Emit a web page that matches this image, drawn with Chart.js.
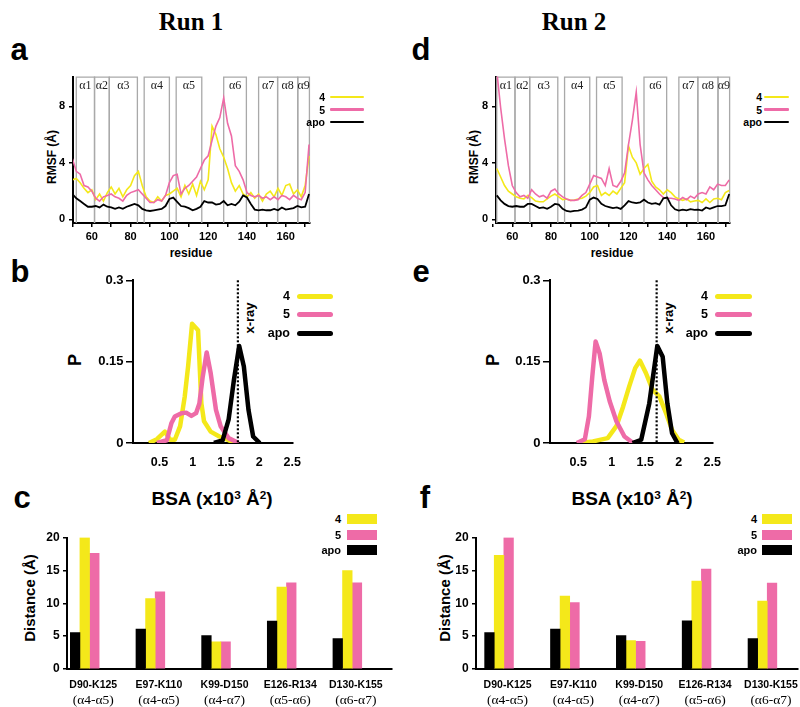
<!DOCTYPE html>
<html>
<head>
<meta charset="utf-8">
<script src="https://cdn.jsdelivr.net/npm/chart.js@4.4.1/dist/chart.umd.min.js"></script>
<style>
  body { margin: 0; background: #fff; }
  #fig { position: relative; width: 800px; height: 707px; overflow: hidden; font-family: "Liberation Sans", Arial, sans-serif; color: #000; }
  #fig canvas { position: absolute; }
  .t { position: absolute; white-space: nowrap; font-weight: bold; transform: translate(-50%, -50%); line-height: 1; }
  .rot { transform: translate(-50%, -50%) rotate(-90deg); }
  .run { font-family: "Liberation Serif", "Times New Roman", serif; font-size: 25px; }
  .letter { font-size: 31px; }
  .lg { position: absolute; white-space: nowrap; font-weight: bold; transform: translate(-100%, -50%); line-height: 1; }
  .sw { position: absolute; }
  sup { font-size: 0.62em; vertical-align: 0; position: relative; top: -0.55em; }
</style>
</head>
<body>
<div id="fig">
  <div class="t run" style="left:191px;top:21px">Run 1</div>
  <div class="t run" style="left:574px;top:21px">Run 2</div>

  <div class="t letter" style="left:19px;top:49px">a</div>
  <div class="t letter" style="left:20px;top:271px">b</div>
  <div class="t letter" style="left:22px;top:497px">c</div>
  <div class="t letter" style="left:421px;top:49px">d</div>
  <div class="t letter" style="left:421px;top:271px">e</div>
  <div class="t letter" style="left:425px;top:497px">f</div>

  <div class="t rot" style="left:52px;top:157px;font-size:12px">RMSF (Å)</div>
  <div class="t rot" style="left:474px;top:157px;font-size:12px">RMSF (Å)</div>
  <div class="t" style="left:191px;top:253px;font-size:12px">residue</div>
  <div class="t" style="left:612px;top:253px;font-size:12px">residue</div>

  <div class="t rot" style="left:75px;top:360px;font-size:18px">P</div>
  <div class="t rot" style="left:493px;top:360px;font-size:18px">P</div>
  <div class="t rot" style="left:249px;top:318px;font-size:13px">x-ray</div>
  <div class="t rot" style="left:668px;top:318px;font-size:13px">x-ray</div>
  <div class="t" style="left:212px;top:498px;font-size:19px">BSA (x10<sup>3</sup> Å<sup>2</sup>)</div>
  <div class="t" style="left:632px;top:498px;font-size:19px">BSA (x10<sup>3</sup> Å<sup>2</sup>)</div>

  <div class="t rot" style="left:29px;top:598px;font-size:15px">Distance (Å)</div>
  <div class="t rot" style="left:444px;top:598px;font-size:15px">Distance (Å)</div>
</div>

<script>
// Series
const seriesNames = ['4', '5', 'apo'];
const seriesColors = ['#F4E81A', '#EE6BA7', '#000000'];

// a / d : RMSF per residue
const resA = [50,52,54,56,58,60,62,64,66,68,70,72,74,76,78,80,82,84,86,88,90,92,94,96,98,100,102,104,106,108,110,112,114,116,118,120,122,124,126,128,130,132,134,136,138,140,142,144,146,148,150,152,154,156,158,160,162,164,166,168,170,172];
const rmsfA4 = [2.8,2.9,2.6,2.2,1.9,2.1,1.4,1.8,1.3,1.9,2.3,1.8,2.2,1.6,2.1,2.4,3.1,3.4,2.4,1.6,1.3,1.2,1.6,1.3,1.7,1.8,2.0,2.2,1.6,2.4,1.8,2.5,1.7,2.7,2.1,2.8,6.6,6.0,5.0,4.4,3.6,2.6,2.0,2.4,1.8,1.6,1.9,1.5,1.8,1.3,1.8,2.0,1.6,2.2,1.7,2.4,2.5,1.8,2.1,1.6,2.4,4.5];
const rmsfA5 = [4.3,3.4,3.2,2.4,2.3,2.0,1.5,1.3,1.6,1.7,1.8,1.6,1.5,1.3,1.7,1.9,2.0,2.1,1.8,1.5,1.2,1.2,1.4,1.3,1.7,2.6,3.1,3.2,1.8,2.2,2.4,2.7,3.0,3.6,4.2,4.5,5.6,6.6,7.2,8.6,6.8,5.9,3.8,3.4,2.8,1.9,1.7,1.6,1.7,1.5,1.6,1.4,1.6,1.4,1.7,1.6,1.4,1.7,1.5,1.4,1.9,5.3];
const rmsfAapo = [1.8,1.5,1.3,1.1,0.9,0.9,0.95,0.85,1.05,0.9,0.85,0.75,0.85,0.75,0.9,1.0,1.1,1.0,0.75,0.65,0.6,0.65,0.7,0.75,0.95,1.45,1.55,1.25,0.95,0.9,0.8,0.65,0.75,0.9,1.3,1.2,1.2,1.05,1.1,1.3,1.0,1.1,1.0,1.25,1.7,1.55,1.1,0.7,0.65,0.7,0.65,0.65,0.75,0.65,0.85,0.7,0.75,0.8,0.95,0.85,0.9,1.8];

const resD = [52,54,56,58,60,62,64,66,68,70,72,74,76,78,80,82,84,86,88,90,92,94,96,98,100,102,104,106,108,110,112,114,116,118,120,122,124,126,128,130,132,134,136,138,140,142,144,146,148,150,152,154,156,158,160,162,164,166,168,170,172];
const rmsfD4 = [3.6,3.0,2.4,2.0,1.8,1.6,1.5,1.45,1.7,1.55,1.3,1.25,1.25,1.45,1.65,1.8,1.6,1.4,1.45,1.35,1.38,1.45,1.5,1.65,1.9,2.3,2.4,1.7,1.9,1.7,2.0,1.8,2.2,2.6,5.2,4.4,4.0,3.2,3.6,3.9,2.7,2.3,2.1,1.8,2.1,1.9,1.6,1.45,1.35,1.45,1.25,1.3,1.35,1.2,1.45,1.2,1.45,1.5,1.4,1.9,2.05];
const rmsfD5 = [10.5,7.9,5.7,3.8,2.4,1.9,1.6,1.7,1.5,2.1,1.8,1.6,1.7,1.5,2.0,2.15,1.8,1.6,1.45,1.35,1.35,1.4,1.7,1.9,2.5,3.1,3.0,2.9,2.4,3.6,2.4,2.3,2.7,3.3,5.3,7.0,9.0,5.3,3.3,2.8,2.4,2.1,1.8,1.55,1.5,1.5,1.45,1.35,1.55,1.4,1.65,1.5,1.8,1.9,1.8,2.3,2.1,2.5,2.4,2.4,2.8];
const rmsfDapo = [1.7,1.35,1.1,0.95,0.9,0.95,0.9,0.9,1.1,1.1,0.95,0.8,0.85,0.75,0.9,1.1,1.05,0.75,0.6,0.55,0.6,0.63,0.7,0.85,1.4,1.55,1.45,1.1,0.95,0.88,0.8,0.85,0.75,1.0,1.3,1.2,1.15,1.2,1.4,1.2,1.1,1.15,1.05,1.5,1.55,1.0,0.72,0.63,0.7,0.65,0.73,0.68,0.7,0.63,0.85,0.75,0.85,0.95,0.95,1.0,1.8];

const rmsfTicks = [50,60,70,80,90,100,110,120,130,140,150,160,170];
const rmsfTickLabels = [60,80,100,120,140,160];
const rmsfYTicks = [0,4,8];

// helices (residue ranges)
const helixNames = ['α1','α2','α3','α4','α5','α6','α7','α8','α9'];
const helixStart = [52, 61.4, 69, 87, 103.5, 128, 146, 155.8, 166.2];
const helixEnd   = [61.4, 69, 83.5, 100, 116.7, 139.7, 155.8, 166.2, 172.2];

// b / e : BSA distributions
const bsaB4x = [0.34,0.46,0.58,0.66,0.73,0.81,0.88,0.93,0.99,1.08,1.13,1.17,1.27,1.40,1.54,1.67];
const bsaB4p = [0,0.007,0.021,0.006,0.006,0.031,0.086,0.141,0.220,0.208,0.073,0.040,0.021,0.012,0.005,0];
const bsaB5x = [0.46,0.61,0.68,0.73,0.83,0.90,0.98,1.05,1.10,1.15,1.21,1.27,1.35,1.42,1.54,1.69];
const bsaB5p = [0,0.005,0.037,0.049,0.055,0.056,0.050,0.055,0.073,0.122,0.167,0.129,0.061,0.031,0.009,0];
const bsaBapox = [1.32,1.45,1.54,1.62,1.70,1.77,1.84,1.91,2.01];
const bsaBapop = [0,0.005,0.043,0.116,0.179,0.141,0.061,0.012,0];

const bsaE4x = [0.52,0.72,0.94,1.07,1.17,1.26,1.35,1.42,1.51,1.61,1.71,1.81,1.90,2.00,2.08];
const bsaE4p = [0,0.003,0.009,0.031,0.067,0.104,0.138,0.152,0.129,0.098,0.086,0.055,0.024,0.006,0.001];
const bsaE5x = [0.48,0.60,0.66,0.71,0.76,0.82,0.89,0.97,1.07,1.19,1.31,1.36];
const bsaE5p = [0,0.007,0.049,0.122,0.187,0.165,0.116,0.077,0.040,0.012,0.001,0];
const bsaEapox = [1.31,1.44,1.56,1.68,1.76,1.83,1.90,1.98];
const bsaEapop = [0,0.006,0.073,0.179,0.159,0.073,0.018,0];

const xrayB = 1.68, xrayE = 1.67;
const bsaXTicks = [0.5,1,1.5,2,2.5];
const bsaYTicks = [0,0.15,0.3];

// c / f : distances
const pairs = ['D90-K125','E97-K110','K99-D150','E126-R134','D130-K155'];
const pairHelices = ['(α4-α5)','(α4-α5)','(α4-α7)','(α5-α6)','(α6-α7)'];
const distC4 = [20, 10.7, 4.12, 12.46, 14.97];
const distC5 = [17.6, 11.76, 4.12, 13.1, 13.1];
const distCapo = [5.53, 6.08, 5.08, 7.29, 4.62];
const distF4 = [17.3, 11.1, 4.32, 13.37, 10.35];
const distF5 = [20, 10.1, 4.22, 15.2, 13.07];
const distFapo = [5.53, 6.08, 5.08, 7.34, 4.62];
const distYTicks = [0,5,10,15,20];

Chart.defaults.font.family = '"Liberation Sans", Arial, sans-serif';
Chart.defaults.font.weight = 'bold';
Chart.defaults.color = '#000';
Chart.defaults.animation = false;

const fig = document.getElementById('fig');

// canvas placed so that the chart area lands on box
function makeCanvas(box, pad) {
  const l = Math.round(box.l - pad.l), t = Math.round(box.t - pad.t);
  const r = Math.round(box.r + pad.r), b = Math.round(box.b + pad.b);
  const c = document.createElement('canvas');
  c.width = r - l; c.height = b - t;
  c.style.left = l + 'px'; c.style.top = t + 'px';
  c.style.width = (r - l) + 'px'; c.style.height = (b - t) + 'px';
  fig.appendChild(c);
  return {
    canvas: c,
    padding: { left: 0, top: Math.round(box.t) - t, right: r - Math.round(box.r), bottom: 0 },
    yW: Math.round(box.l) - l,
    xH: b - Math.round(box.b)
  };
}

function axis(tickLen, size, pad, fixed) {
  return {
    border: { display: true, color: '#000', width: 2 },
    grid: { display: true, drawOnChartArea: false, drawTicks: tickLen > 0, tickLength: tickLen,
            color: '#000', tickColor: '#000', tickWidth: 1.5, lineWidth: 1.5 },
    ticks: { font: { size: size, weight: 'bold' }, padding: pad, color: '#000', autoSkip: false, maxRotation: 0 },
    afterFit: fixed
  };
}

function pts(xs, ys) { return xs.map((x, i) => ({ x: x, y: ys[i] })); }

const helixPlugin = {
  id: 'helix',
  beforeDatasetsDraw(chart) {
    const { ctx, chartArea: a, scales: { x } } = chart;
    ctx.save();
    ctx.strokeStyle = '#a9a9a9';
    ctx.lineWidth = 1.3;
    ctx.fillStyle = '#222';
    ctx.font = '12px "Liberation Serif", "Times New Roman", serif';
    ctx.textAlign = 'center';
    ctx.textBaseline = 'middle';
    helixNames.forEach((n, i) => {
      const x0 = x.getPixelForValue(helixStart[i]);
      const x1 = x.getPixelForValue(helixEnd[i]);
      ctx.beginPath();
      ctx.moveTo(x0, a.bottom); ctx.lineTo(x0, a.top + 0.5);
      ctx.lineTo(x1, a.top + 0.5); ctx.lineTo(x1, a.bottom);
      ctx.stroke();
      ctx.fillText(n, (x0 + x1) / 2, a.top + 9);
    });
    ctx.restore();
  }
};

const xrayPlugin = {
  id: 'xray',
  afterDatasetsDraw(chart, args, opts) {
    const { ctx, chartArea: a, scales: { x } } = chart;
    const px = x.getPixelForValue(opts.value);
    ctx.save();
    ctx.strokeStyle = '#000';
    ctx.lineWidth = 2.2;
    ctx.setLineDash([2, 2]);
    ctx.beginPath();
    ctx.moveTo(px, a.top); ctx.lineTo(px, a.bottom);
    ctx.stroke();
    ctx.restore();
  }
};

const subLabelPlugin = {
  id: 'sublabels',
  afterDraw(chart) {
    const { ctx, chartArea: a, scales: { x } } = chart;
    ctx.save();
    ctx.fillStyle = '#000';
    ctx.font = '13.5px "Liberation Serif", "Times New Roman", serif';
    ctx.textAlign = 'center';
    ctx.textBaseline = 'middle';
    pairHelices.forEach((s, i) => {
      ctx.fillText(s, x.getPixelForValue(i) + 8.5, a.bottom + 31);
    });
    ctx.restore();
  }
};

function rmsfChart(box, res, s4, s5, sApo, xmin, xmax) {
  const cv = makeCanvas(box, { l: 36, t: 10, r: 12, b: 26 });
  const ds = (i, data, w) => ({
    label: seriesNames[i], data: pts(res, data), borderColor: seriesColors[i],
    borderWidth: w, pointRadius: 0, tension: 0, fill: false
  });
  const xAx = axis(4, 11, 3.5, s => { s.height = cv.xH; });
  Object.assign(xAx, { type: 'linear', min: xmin, max: xmax,
    afterBuildTicks: s => { s.ticks = rmsfTicks.map(v => ({ value: v })); } });
  xAx.ticks.callback = v => rmsfTickLabels.includes(v) ? String(v) : '';
  const yAx = axis(4, 11, 4, s => { s.width = cv.yW; });
  Object.assign(yAx, { min: -0.25, max: 10.1,
    afterBuildTicks: s => { s.ticks = rmsfYTicks.map(v => ({ value: v })); } });
  yAx.ticks.callback = v => String(v);
  new Chart(cv.canvas, {
    type: 'line',
    data: { datasets: [ds(2, sApo, 1.8), ds(1, s5, 1.6), ds(0, s4, 1.6)] },
    options: {
      responsive: false,
      layout: { padding: cv.padding },
      plugins: { legend: { display: false }, tooltip: { enabled: false } },
      scales: { x: xAx, y: yAx }
    },
    plugins: [helixPlugin]
  });
}

function bsaChart(box, xs, ps, xmin, xray) {
  const cv = makeCanvas(box, { l: 46, t: 10, r: 20, b: 30 });
  const xAx = axis(0, 12.5, 12, s => { s.height = cv.xH; });
  Object.assign(xAx, { type: 'linear', min: xmin, max: 2.5,
    afterBuildTicks: s => { s.ticks = bsaXTicks.map(v => ({ value: v })); } });
  xAx.ticks.callback = v => String(v);
  const yAx = axis(7, 13, 2.5, s => { s.width = cv.yW; });
  Object.assign(yAx, { min: 0, max: 0.3,
    afterBuildTicks: s => { s.ticks = bsaYTicks.map(v => ({ value: v })); } });
  yAx.ticks.callback = v => String(v);
  const order = [2, 1, 0];
  new Chart(cv.canvas, {
    type: 'line',
    data: { datasets: order.map(i => ({
      label: seriesNames[i], data: pts(xs[i], ps[i]), borderColor: seriesColors[i],
      borderWidth: 4.5, pointRadius: 0, tension: 0, fill: false, borderJoinStyle: 'round'
    })) },
    options: {
      responsive: false,
      layout: { padding: cv.padding },
      plugins: { legend: { display: false }, tooltip: { enabled: false }, xray: { value: xray } },
      scales: { x: xAx, y: yAx }
    },
    plugins: [xrayPlugin]
  });
}

function distChart(box, s4, s5, sApo, xmin, xmax) {
  const cv = makeCanvas(box, { l: 36, t: 10, r: 2, b: 38 });
  const xAx = axis(0, 10.5, 9.5, s => { s.height = cv.xH; });
  Object.assign(xAx, { type: 'linear', min: xmin, max: xmax, offset: false,
    afterBuildTicks: s => { s.ticks = pairs.map((p, i) => ({ value: i })); } });
  xAx.ticks.callback = v => pairs[v] || '';
  xAx.ticks.labelOffset = 8.5;
  const yAx = axis(4, 12, 3.4, s => { s.width = cv.yW; });
  Object.assign(yAx, { min: 0, max: 20,
    afterBuildTicks: s => { s.ticks = distYTicks.map(v => ({ value: v })); } });
  yAx.ticks.callback = v => String(v);
  const vals = [s4, s5, sApo];
  const order = [2, 0, 1];
  new Chart(cv.canvas, {
    type: 'bar',
    data: { datasets: order.map(i => ({
      label: seriesNames[i], data: vals[i].map((v, k) => ({ x: k, y: v })),
      backgroundColor: seriesColors[i], borderWidth: 0, barThickness: 9.6
    })) },
    options: {
      responsive: false,
      layout: { padding: cv.padding },
      plugins: { legend: { display: false }, tooltip: { enabled: false } },
      scales: { x: xAx, y: yAx }
    },
    plugins: [subLabelPlugin]
  });
}

// HTML legends built from the series
function legend(textRight, x0, x1, ys, size, thick, box) {
  seriesNames.forEach((n, i) => {
    const lab = document.createElement('div');
    lab.className = 'lg';
    lab.style.left = textRight + 'px';
    lab.style.top = ys[i] + 'px';
    lab.style.fontSize = size + 'px';
    lab.textContent = n;
    fig.appendChild(lab);
    const sw = document.createElement('div');
    sw.className = 'sw';
    sw.style.left = x0 + 'px';
    sw.style.width = (x1 - x0) + 'px';
    sw.style.top = (ys[i] - thick / 2) + 'px';
    sw.style.height = thick + 'px';
    sw.style.background = seriesColors[i];
    if (!box) sw.style.borderRadius = (thick / 2) + 'px';
    fig.appendChild(sw);
  });
}

rmsfChart({ l: 73, t: 76, r: 310, b: 222.5 }, resA, rmsfA4, rmsfA5, rmsfAapo, 50.3, 172.5);
rmsfChart({ l: 496, t: 76, r: 730, b: 222.5 }, resD, rmsfD4, rmsfD5, rmsfDapo, 51.6, 172.4);

bsaChart({ l: 133, t: 280, r: 293, b: 443 },
  [bsaB4x, bsaB5x, bsaBapox], [bsaB4p, bsaB5p, bsaBapop], 0.1, xrayB);
bsaChart({ l: 550, t: 280, r: 713, b: 443 },
  [bsaE4x, bsaE5x, bsaEapox], [bsaE4p, bsaE5p, bsaEapop], 0.08, xrayE);

distChart({ l: 67, t: 537, r: 392, b: 669 }, distC4, distC5, distCapo, -0.27, 4.68);
distChart({ l: 476, t: 537, r: 798, b: 669 }, distF4, distF5, distFapo, -0.35, 4.54);

legend(325, 330, 364, [97, 109.5, 122], 10.5, 2.2, false);
legend(762, 764, 789, [97, 109.5, 122], 10.5, 2.2, false);
legend(290, 297, 333, [296, 314, 333], 12.5, 5, false);
legend(708, 715, 752, [296, 314, 333], 12.5, 5, false);
legend(341, 347, 377, [519, 535, 550], 11, 9.5, true);
legend(757, 762, 792, [519, 535, 550], 11, 9.5, true);
</script>
</body>
</html>
